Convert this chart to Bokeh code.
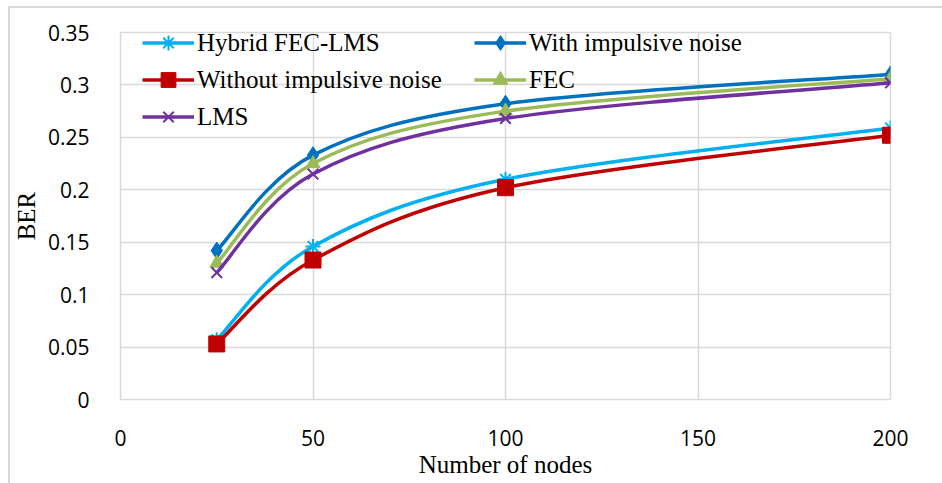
from bokeh.plotting import figure
from bokeh.models import (Range1d, FixedTicker, Legend, LegendItem, ColumnDataSource)
from bokeh.embed import file_html
from bokeh.resources import INLINE

# ---- data ----
nodes = [25, 50, 100, 200]
series_names = ["Hybrid FEC-LMS", "With impulsive noise", "Without impulsive noise", "FEC", "LMS"]
hybrid = [0.057, 0.146, 0.210, 0.259]
with_imp = [0.142, 0.233, 0.282, 0.310]
without_imp = [0.053, 0.133, 0.202, 0.252]
fec = [0.130, 0.225, 0.275, 0.306]
lms = [0.121, 0.215, 0.268, 0.302]
x_ticks = [0, 50, 100, 150, 200]
y_ticks = [0, 0.05, 0.1, 0.15, 0.2, 0.25, 0.3, 0.35]
y_tick_labels = ["0", "0.05", "0.1", "0.15", "0.2", "0.25", "0.3", "0.35"]

colors = ["#00B0F0", "#0070C0", "#C00000", "#9BBB59", "#7030A0"]
markers = ["asterisk", "diamond", "square", "triangle", "x"]
msizes = [15, 17, 16, 14, 15]
all_series = [hybrid, with_imp, without_imp, fec, lms]

p = figure(width=942, height=483, output_backend="svg", toolbar_location=None,
           x_range=Range1d(0, 200), y_range=Range1d(0, 0.35),
           min_border_left=120, min_border_right=52, min_border_top=32, min_border_bottom=84)
p.frame_width = 770
p.frame_height = 367
p.outline_line_color = "#d9d9d9"
p.outline_line_width = 1.5
p.background_fill_color = "white"
p.border_fill_color = None
p.styles = {
    "background": ("linear-gradient(#d9d9d9, #d9d9d9) 8px 6px / 2px 100% no-repeat, "
                   "linear-gradient(#d9d9d9, #d9d9d9) 8px 6px / 100% 2px no-repeat, white"),
}

p.xaxis.ticker = FixedTicker(ticks=x_ticks)
p.yaxis.ticker = FixedTicker(ticks=y_ticks)
p.yaxis.major_label_overrides = {t: l for t, l in zip(y_ticks, y_tick_labels)}
p.xgrid.ticker = FixedTicker(ticks=x_ticks[1:])
p.ygrid.ticker = FixedTicker(ticks=y_ticks)
for g in (p.xgrid, p.ygrid):
    g.grid_line_color = "#d9d9d9"
    g.grid_line_width = 1.5

for ax in (p.xaxis, p.yaxis):
    ax.axis_line_color = None
    ax.major_tick_line_color = None
    ax.minor_tick_line_color = None
    ax.major_label_text_font = "Open Sans"
    ax.major_label_text_font_size = "21px"
    ax.major_label_text_color = "black"
    ax.axis_label_text_font = "Liberation Serif"
    ax.axis_label_text_font_size = "25px"
    ax.axis_label_text_font_style = "normal"
    ax.axis_label_text_color = "black"
p.xaxis.axis_label = "Number of nodes"
p.yaxis.axis_label = "BER"
p.xaxis.major_label_standoff = 24
p.yaxis.major_label_standoff = 25
p.xaxis.axis_label_standoff = 2
p.yaxis.axis_label_standoff = 5


def bezier_segments(xs, ys):
    n = len(xs)
    seg = dict(x0=[], y0=[], x1=[], y1=[], cx0=[], cy0=[], cx1=[], cy1=[])
    for i in range(n - 1):
        im1 = max(i - 1, 0)
        ip2 = min(i + 2, n - 1)
        seg["x0"].append(xs[i]); seg["y0"].append(ys[i])
        seg["x1"].append(xs[i + 1]); seg["y1"].append(ys[i + 1])
        seg["cx0"].append(xs[i] + (xs[i + 1] - xs[im1]) / 6)
        seg["cy0"].append(ys[i] + (ys[i + 1] - ys[im1]) / 6)
        seg["cx1"].append(xs[i + 1] - (xs[ip2] - xs[i]) / 6)
        seg["cy1"].append(ys[i + 1] - (ys[ip2] - ys[i]) / 6)
    return ColumnDataSource(seg)


items = {}
for name, vals, c, m, s in zip(series_names, all_series, colors, markers, msizes):
    p.bezier(x0="x0", y0="y0", x1="x1", y1="y1", cx0="cx0", cy0="cy0", cx1="cx1", cy1="cy1",
             source=bezier_segments(nodes, vals), line_color=c, line_width=3.5)
    leg_line = p.line(x=[nodes[0]], y=[vals[0]], line_color=c, line_width=3.5)
    lw = 2 if m in ("asterisk", "x") else 1
    sc = p.scatter(x=nodes, y=vals, marker=m, size=s, fill_color=c, line_color=c, line_width=lw)
    items[name] = LegendItem(label=name, renderers=[leg_line, sc])

# legend fills column-major; order so rows read as in the reference
legend_order = ["Hybrid FEC-LMS", "Without impulsive noise", "LMS", "With impulsive noise", "FEC"]
legend = Legend(items=[items[n] for n in legend_order], ncols=2, location=(22, 264),
                background_fill_alpha=0, border_line_alpha=0,
                padding=0, margin=0, spacing=0,
                glyph_width=52, glyph_height=37, label_height=37, label_width=277,
                label_standoff=3,
                label_text_font="Liberation Serif", label_text_font_size="25px",
                label_text_color="black")
p.add_layout(legend)

open("out.html", "w").write(file_html(p, INLINE))
